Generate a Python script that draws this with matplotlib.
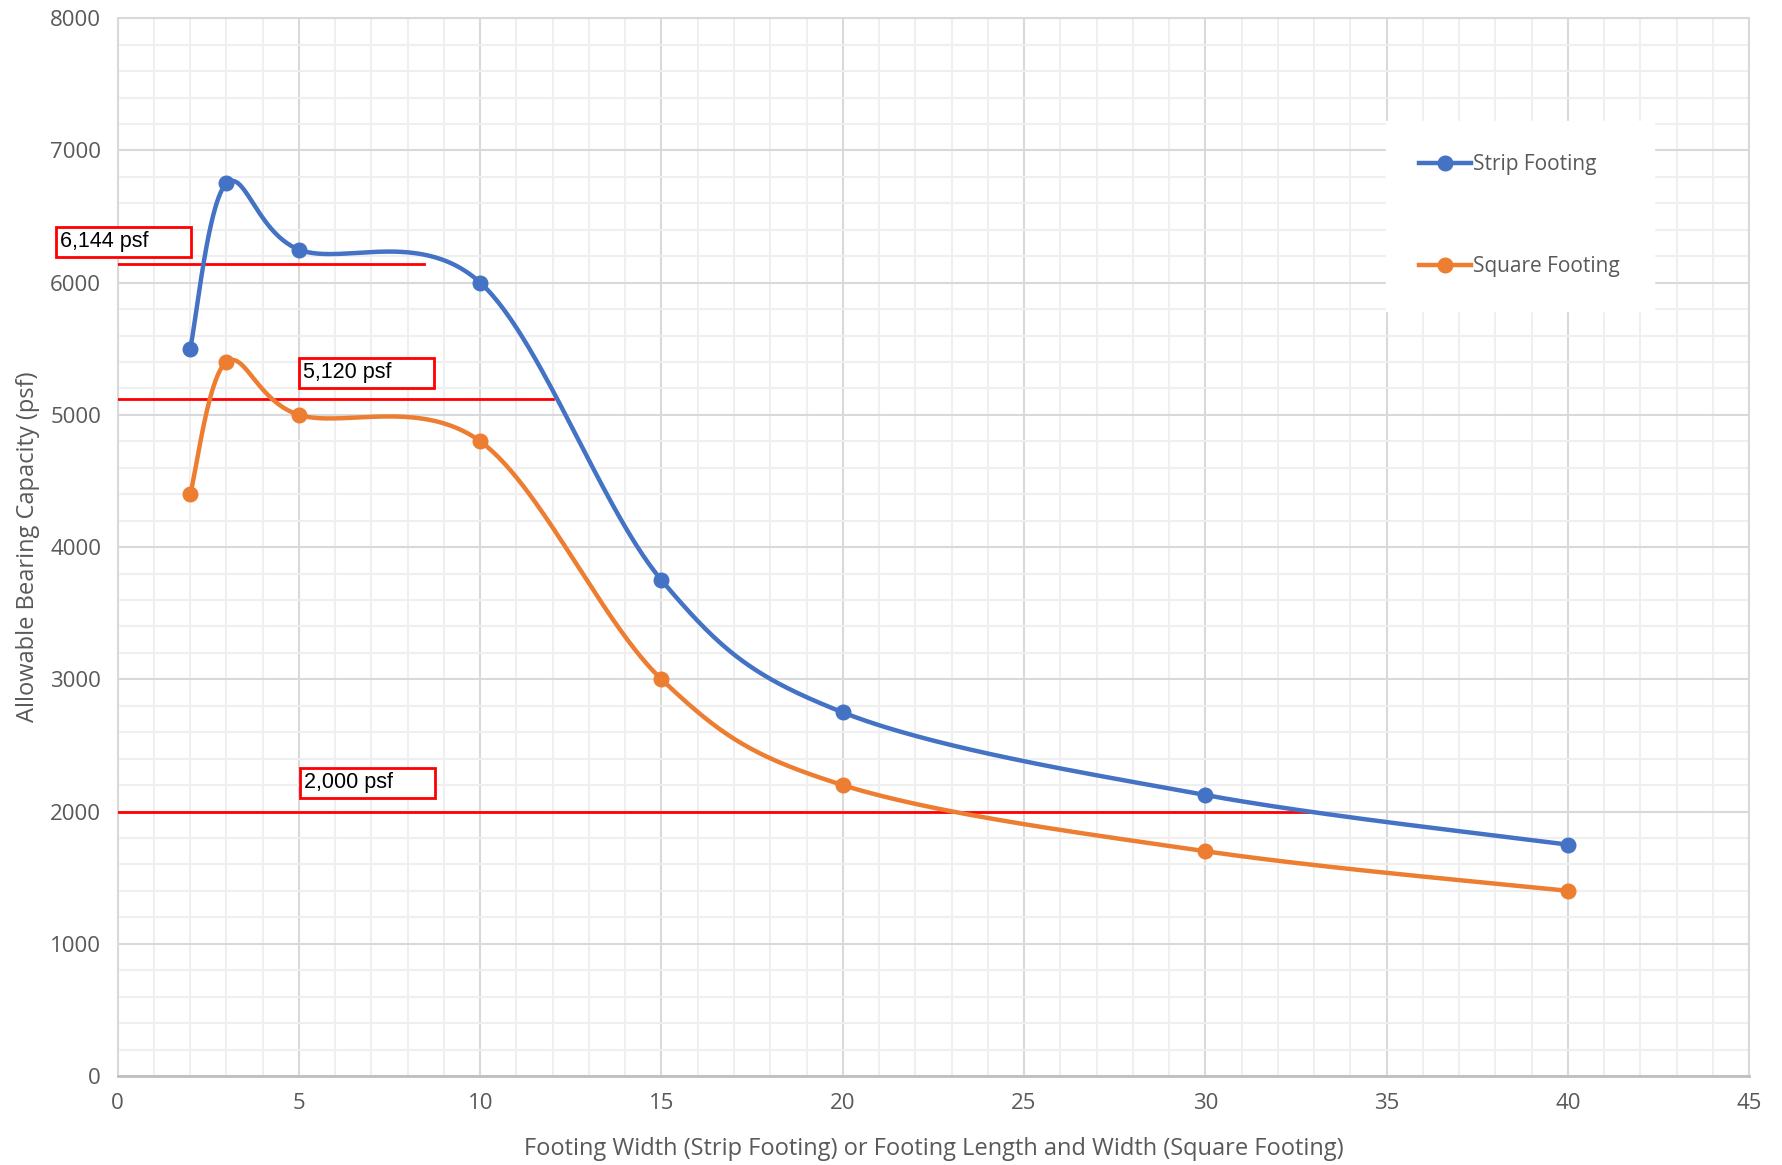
import numpy as np
import matplotlib.pyplot as plt
from matplotlib.patches import Rectangle
from matplotlib.lines import Line2D

width_ft = [2, 3, 5, 10, 15, 20, 30, 40]
strip = [5500, 6750, 6250, 6000, 3750, 2750, 2125, 1750]
square = [4400, 5400, 5000, 4800, 3000, 2200, 1700, 1400]

ref_values = [6144, 5120, 2000]
ref_ends = [8.45, 12.0, 33.1]
ref_labels = ['6,144 psf', '5,120 psf', '2,000 psf']
# box lower-left (x, y) in data units
ref_boxes = [(-1.71, 6194), (5.0, 5206), (5.03, 2105)]

BLUE = '#4472C4'
ORANGE = '#ED7D31'
GREY = '#595959'

XPX = 36.25   # approx pixels per x unit
YPX = 0.1323  # approx pixels per y unit


def smooth(xs, ys, n=60):
    # Excel-like smoothed line: cubic bezier, catmull-rom control points in pixel space
    p = np.column_stack([np.array(xs) * XPX, np.array(ys) * YPX])
    out = []
    for i in range(len(p) - 1):
        p0 = p[i - 1] if i > 0 else p[i]
        p3 = p[i + 2] if i + 2 < len(p) else p[i + 1]
        c1 = p[i] + (p[i + 1] - p0) / 6
        c2 = p[i + 1] - (p3 - p[i]) / 6
        t = np.linspace(0, 1, n)[:, None]
        seg = ((1 - t) ** 3) * p[i] + 3 * ((1 - t) ** 2) * t * c1 + 3 * (1 - t) * t ** 2 * c2 + t ** 3 * p[i + 1]
        out.append(seg)
    out = np.vstack(out)
    return out[:, 0] / XPX, out[:, 1] / YPX


fig = plt.figure(figsize=(17.83, 11.65), dpi=100)
ax = fig.add_axes([0.066, 0.0764, 0.915, 0.908])

for ys, c in [(strip, BLUE), (square, ORANGE)]:
    sx, sy = smooth(width_ft, ys)
    ax.plot(sx, sy, color=c, lw=3.2, zorder=4, solid_capstyle='round')
    ax.plot(width_ft, ys, 'o', color=c, ms=10.5, zorder=5)

for v, e, lab, (bx, by) in zip(ref_values, ref_ends, ref_labels, ref_boxes):
    ax.plot([0, e], [v, v], color='#FF0000', lw=2, zorder=3)
    ax.add_patch(Rectangle((bx, by), 3.73, 224, fill=True, facecolor='white',
                           edgecolor='#FF0000', lw=2, zorder=6, clip_on=False))
    ax.text(bx + 0.12, by + 118, lab, fontsize=15.5, family='Liberation Sans',
            va='center', ha='left', zorder=7)

ax.set_xlim(0, 45)
ax.set_ylim(0, 8000)
ax.set_xticks(np.arange(0, 46, 5))
ax.set_yticks(np.arange(0, 8001, 1000))
ax.set_xticks(np.arange(0, 46, 1), minor=True)
ax.set_yticks(np.arange(0, 8001, 200), minor=True)
ax.grid(which='major', color='#D9D9D9', lw=1.5)
ax.grid(which='minor', color='#EFEFEF', lw=1.5)
ax.set_axisbelow(True)
for s in ['top', 'right', 'left']:
    ax.spines[s].set_color('#D9D9D9')
    ax.spines[s].set_linewidth(1.5)
ax.spines['bottom'].set_color('#BFBFBF')
ax.spines['bottom'].set_linewidth(2)
ax.tick_params(which='both', length=0, labelsize=16, labelcolor=GREY, pad=12)
for t in ax.get_xticklabels() + ax.get_yticklabels():
    t.set_family('Open Sans')

ax.set_xlabel('Footing Width (Strip Footing) or Footing Length and Width (Square Footing)',
              fontsize=17, color=GREY, family='Open Sans', labelpad=17)
ax.set_ylabel('Allowable Bearing Capacity (psf)', fontsize=17, color=GREY,
              family='Open Sans', labelpad=7)

handles = [Line2D([], [], color=BLUE, lw=3.2, marker='o', ms=10.5),
           Line2D([], [], color=ORANGE, lw=3.2, marker='o', ms=10.5)]
leg = ax.legend(handles, ['Strip Footing', 'Square Footing'], loc='upper left',
                bbox_to_anchor=(0.771, 0.913), frameon=True, fancybox=False,
                labelspacing=3.9, handlelength=2.5, handletextpad=0.1,
                borderpad=1.6, prop={'family': 'Open Sans', 'size': 15})
leg.get_frame().set_edgecolor('white')
leg.get_frame().set_facecolor('white')
leg.get_frame().set_alpha(1)
for t in leg.get_texts():
    t.set_color(GREY)

fig.savefig('out.png', dpi=100, facecolor='white')
